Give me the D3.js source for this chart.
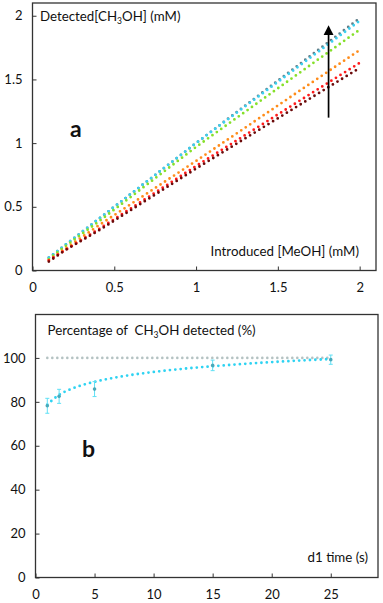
<!DOCTYPE html>
<html>
<head>
<meta charset="utf-8">
<script src="https://cdn.jsdelivr.net/npm/d3@7"></script>
<style>
body { margin: 0; background: #fff; }
text { font-family: Lato, "Open Sans", sans-serif; fill: #111; white-space: pre; }
</style>
</head>
<body>
<script>
// panel a: detected vs introduced methanol
var introduced = [0.1, 0.2, 0.4, 1, 2];
var seriesA = [
  {color: "#607f8a", values: [0.10, 0.20, 0.40, 1.00, 1.98]},
  {color: "#3cd0f0", values: [0.10, 0.20, 0.40, 1.00, 1.96]},
  {color: "#86e02a", values: [0.09, 0.19, 0.38, 0.97, 1.89]},
  {color: "#ff8c1a", values: [0.08, 0.17, 0.35, 0.86, 1.73]},
  {color: "#ff1a1a", values: [0.08, 0.16, 0.32, 0.82, 1.63]},
  {color: "#6b0a0a", values: [0.07, 0.16, 0.31, 0.80, 1.59]}
];
var ticksAx = [0, 0.5, 1, 1.5, 2];
var ticksAy = [0, 0.5, 1, 1.5, 2];

// panel b: percentage detected vs d1 time
var d1time = [1, 2, 5, 15, 25];
var percent = [78.2, 82.5, 85.8, 96.6, 99.2];
var percentErr = [3.4, 3.2, 3.4, 2.4, 2.1];
var fitTime = [1, 2, 3, 4, 5, 7, 10, 13, 15, 18, 20, 25];
var fitPercent = [78.7, 83.2, 85.8, 87.7, 89.1, 91.3, 93.6, 95.3, 96.2, 97.4, 98.1, 99.5];
var refTime = [1, 25];
var refPercent = [100, 100];
var ticksBx = [0, 5, 10, 15, 20, 25];
var ticksBy = [0, 20, 40, 60, 80, 100];

var width = 383, height = 603;
var svg = d3.select("body").append("svg").attr("width", width).attr("height", height);

function sub(t, main, s, rest) {
  t.append("tspan").text(main);
  t.append("tspan").attr("font-size", "8.5px").attr("dy", 3).text(s);
  t.append("tspan").attr("dy", -3).text(rest);
}

// ---------- panel a ----------
var xA = d3.scaleLinear().domain([0, 2.1]).range([32.5, 376]);
var yA = d3.scaleLinear().domain([0, 2.1]).range([270.5, 3]);

var gA = svg.append("g");
gA.append("rect").attr("x", 32.5).attr("y", 3).attr("width", 376 - 32.5).attr("height", 270.5 - 3)
  .style("fill", "none").style("stroke", "#333").style("stroke-width", 1.3);

gA.append("g").attr("transform", "translate(0,270.5)")
  .call(d3.axisBottom(xA).tickValues(ticksAx).tickFormat(d3.format("")).tickSizeInner(-4).tickSizeOuter(0).tickPadding(12))
  .call(function(g) { g.select(".domain").remove(); })
  .selectAll("text").style("font-size", "13px").style("font-family", "Lato");
gA.append("g").attr("transform", "translate(32.5,0)")
  .call(d3.axisLeft(yA).tickValues(ticksAy).tickFormat(d3.format("")).tickSizeInner(-4).tickSizeOuter(0).tickPadding(10))
  .call(function(g) { g.select(".domain").remove(); })
  .selectAll("text").style("font-size", "13px").style("font-family", "Lato");
gA.selectAll(".tick line").style("stroke", "#333");

var lineA = d3.line().x(function(d, i) { return xA(introduced[i]); }).y(function(d) { return yA(d); });
gA.selectAll(".serA").data(seriesA).enter().append("path").attr("class", "serA")
  .attr("d", function(d) { return lineA(d.values); })
  .style("fill", "none")
  .style("stroke", function(d) { return d.color; })
  .style("stroke-width", 2.8)
  .style("stroke-linecap", "round")
  .style("stroke-dasharray", "0,5.4");

// arrow
svg.append("defs").append("marker").attr("id", "arr").attr("viewBox", "0 0 10 10")
  .attr("refX", 3).attr("refY", 5).attr("markerWidth", 6).attr("markerHeight", 6).attr("orient", "auto")
  .append("path").attr("d", "M0,0 L10,5 L0,10 z").style("fill", "#000");
gA.append("line").attr("x1", xA(1.81)).attr("x2", xA(1.81)).attr("y1", yA(1.2)).attr("y2", yA(1.87))
  .style("stroke", "#000").style("stroke-width", 1.7).attr("marker-end", "url(#arr)");

var tA = gA.append("text").attr("x", 40).attr("y", 21).style("font-size", "13.3px");
sub(tA, "Detected[CH", "3", "OH] (mM)");
gA.append("text").attr("x", 359).attr("y", 256).attr("text-anchor", "end").style("font-size", "13.3px")
  .text("Introduced [MeOH] (mM)");
gA.append("text").attr("x", 70).attr("y", 137).style("font-size", "23px").style("font-weight", "bold").text("a");

// ---------- panel b ----------
var xB = d3.scaleLinear().domain([0, 29]).range([35.5, 378]);
var yB = d3.scaleLinear().domain([0, 120]).range([577.5, 314]);

var gB = svg.append("g");
gB.append("rect").attr("x", 35.5).attr("y", 314.5).attr("width", 378 - 35.5).attr("height", 577.5 - 314.5)
  .style("fill", "none").style("stroke", "#333").style("stroke-width", 1.3);

gB.append("g").attr("transform", "translate(0,577.5)")
  .call(d3.axisBottom(xB).tickValues(ticksBx).tickSizeInner(-4).tickSizeOuter(0).tickPadding(12))
  .call(function(g) { g.select(".domain").remove(); })
  .selectAll("text").style("font-size", "13px").style("font-family", "Lato");
gB.append("g").attr("transform", "translate(35.5,0)")
  .call(d3.axisLeft(yB).tickValues(ticksBy).tickSizeInner(-4).tickSizeOuter(0).tickPadding(10))
  .call(function(g) { g.select(".domain").remove(); })
  .selectAll("text").style("font-size", "13px").style("font-family", "Lato");
gB.selectAll(".tick line").style("stroke", "#333");

var lineB = d3.line().x(function(d) { return xB(d[0]); }).y(function(d) { return yB(d[1]); });
gB.append("path").attr("d", lineB(d3.zip(refTime, refPercent)))
  .style("fill", "none").style("stroke", "#b4c2c2").style("stroke-width", 2.6)
  .style("stroke-linecap", "round").style("stroke-dasharray", "0,5");
gB.append("path")
  .attr("d", lineB.curve(d3.curveMonotoneX)(d3.zip(fitTime, fitPercent)))
  .style("fill", "none").style("stroke", "#2fd3f2").style("stroke-width", 2.8)
  .style("stroke-linecap", "round").style("stroke-dasharray", "0,5.4");

var pts = d3.zip(d1time, percent, percentErr);
var eb = gB.selectAll(".eb").data(pts).enter().append("g").attr("class", "eb");
eb.append("line").attr("x1", function(d) { return xB(d[0]); }).attr("x2", function(d) { return xB(d[0]); })
  .attr("y1", function(d) { return yB(d[1] - d[2]); }).attr("y2", function(d) { return yB(d[1] + d[2]); })
  .style("stroke", "#5fe0f5").style("stroke-width", 1);
[-1, 1].forEach(function(s) {
  eb.append("line").attr("x1", function(d) { return xB(d[0]) - 2; }).attr("x2", function(d) { return xB(d[0]) + 2; })
    .attr("y1", function(d) { return yB(d[1] + s * d[2]); }).attr("y2", function(d) { return yB(d[1] + s * d[2]); })
    .style("stroke", "#5fe0f5").style("stroke-width", 1);
});
eb.append("circle").attr("cx", function(d) { return xB(d[0]); }).attr("cy", function(d) { return yB(d[1]); })
  .attr("r", 1.8).style("fill", "#4aa8b8");

var tB = gB.append("text").attr("x", 47.5).attr("y", 335).style("font-size", "13.3px");
sub(tB, "Percentage of  CH", "3", "OH detected (%)");
gB.append("text").attr("x", 368).attr("y", 562).attr("text-anchor", "end").style("font-size", "13.3px")
  .text("d1 time (s)");
gB.append("text").attr("x", 82).attr("y", 457).style("font-size", "23px").style("font-weight", "bold").text("b");
</script>
</body>
</html>
